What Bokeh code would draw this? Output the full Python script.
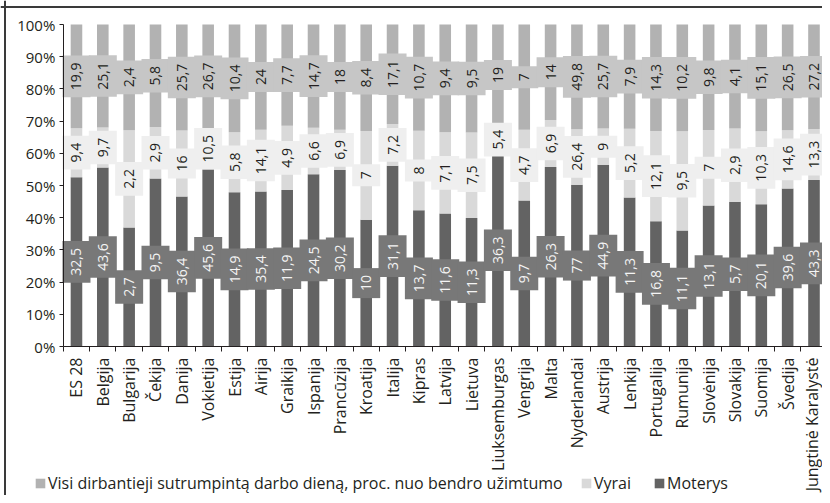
import numpy as np
from math import pi
from bokeh.plotting import figure
from bokeh.models import (Range1d, FixedTicker, PrintfTickFormatter, Legend,
                          LegendItem, ColumnDataSource, Span)
from bokeh.embed import file_html
from bokeh.resources import INLINE
from bokeh.core.properties import value

countries = ["ES 28", "Belgija", "Bulgarija", "Čekija", "Danija", "Vokietija",
             "Estija", "Airija", "Graikija", "Ispanija", "Prancūzija", "Kroatija",
             "Italija", "Kipras", "Latvija", "Lietuva", "Liuksemburgas", "Vengrija",
             "Malta", "Nyderlandai", "Austrija", "Lenkija", "Portugalija", "Rumunija",
             "Slovėnija", "Slovakija", "Suomija", "Švedija", "Jungtinė Karalystė"]
moterys = [32.5, 43.6, 2.7, 9.5, 36.4, 45.6, 14.9, 35.4, 11.9, 24.5, 30.2, 10,
           31.1, 13.7, 11.6, 11.3, 36.3, 9.7, 26.3, 77, 44.9, 11.3, 16.8, 11.1,
           13.1, 5.7, 20.1, 39.6, 43.3]
vyrai = [9.4, 9.7, 2.2, 2.9, 16, 10.5, 5.8, 14.1, 4.9, 6.6, 6.9, 7, 7.2, 8, 7.1,
         7.5, 5.4, 4.7, 6.9, 26.4, 9, 5.2, 12.1, 9.5, 7, 2.9, 10.3, 14.6, 13.3]
visi = [19.9, 25.1, 2.4, 5.8, 25.7, 26.7, 10.4, 24, 7.7, 14.7, 18, 8.4, 17.1,
        10.7, 9.4, 9.5, 19, 7, 14, 49.8, 25.7, 7.9, 14.3, 10.2, 9.8, 4.1, 15.1,
        26.5, 27.2]
y_ticks = [0, 10, 20, 30, 40, 50, 60, 70, 80, 90, 100]
legend_labels = ["Visi dirbantieji sutrumpintą darbo dieną, proc. nuo bendro užimtumo",
                 "Vyrai", "Moterys"]

DARK, DARK_BOX = "#636363", "#787878"
LIGHT, LIGHT_BOX = "#d9d9d9", "#efefef"
GRAY, GRAY_BOX = "#b2b2b2", "#c6c6c6"
INK = "#231f20"
FRAME = "#3a3a3a"
FONT = "Open Sans"

W = np.array(moterys, float)
M = np.array(vyrai, float)
A = np.array(visi, float)
tot = W + M + A
pw, pm, pa = W / tot * 100, M / tot * 100, A / tot * 100
n = len(countries)
x = np.arange(n) + 0.5


def fmt(v):
    return f"{v:g}".replace(".", ",")


src = ColumnDataSource(dict(
    x=x, w1=pw, m1=pw + pm, a1=pw + pm + pa,
    wc=pw / 2, mc=pw + pm / 2, ac=pw + pm + pa / 2,
    wl=[fmt(v) for v in moterys], ml=[fmt(v) for v in vyrai], al=[fmt(v) for v in visi],
))

# layout geometry (canvas pixels)
CW, CH = 822, 495
X0_PX = 62.8          # x of category axis start
STEP_PX = 26.34       # pixels per category
Y0_PX = 346.0         # y of 0 %
Y100_PX = 24.0        # y of 100 %
ppu = (Y0_PX - Y100_PX) / 100.0
xr = Range1d(-X0_PX / STEP_PX, (CW - X0_PX) / STEP_PX)
yr = Range1d(-(CH - Y0_PX) / ppu, 100 + Y100_PX / ppu)

p = figure(width=CW, height=CH, x_range=xr, y_range=yr,
           output_backend="svg", toolbar_location=None, min_border=0)
p.outline_line_color = None
p.xgrid.visible = False
p.ygrid.visible = False
p.background_fill_color = "white"

# outer chart frame (top and left edges)
p.add_layout(Span(location=(4.5 - X0_PX) / STEP_PX, dimension="height",
                  line_color=FRAME, line_width=2))
p.add_layout(Span(location=100 + (Y100_PX - 6.5) / ppu, dimension="width",
                  line_color=FRAME, line_width=2))

bw = 0.44
r_w = p.vbar(x="x", bottom=0, top="w1", width=bw, fill_color=DARK, line_color=None, source=src)
r_m = p.vbar(x="x", bottom="w1", top="m1", width=bw, fill_color=LIGHT, line_color=None, source=src)
r_a = p.vbar(x="x", bottom="m1", top="a1", width=bw, fill_color=GRAY, line_color=None, source=src)

for ycol, tcol, box, tc in [("ac", "al", GRAY_BOX, INK), ("mc", "ml", LIGHT_BOX, INK),
                            ("wc", "wl", DARK_BOX, "#f4f4f4")]:
    p.text(x="x", y=ycol, text=tcol, angle=pi / 2, text_align="center",
           text_baseline="middle", text_font=value(FONT), text_font_size="14px",
           text_color=tc, background_fill_color=box, padding=(7, 9), source=src)

# y axis
ya = p.yaxis[0]
ya.fixed_location = 0
ya.bounds = (0, 100)
ya.ticker = FixedTicker(ticks=y_ticks)
ya.formatter = PrintfTickFormatter(format="%d%%")
ya.major_tick_out = 4
ya.major_tick_in = 0
ya.minor_tick_out = 0
ya.minor_tick_in = 0
ya.major_label_standoff = 4
ya.axis_line_color = INK
ya.major_tick_line_color = INK
ya.major_label_text_font = FONT
ya.major_label_text_font_size = "15px"
ya.major_label_text_color = INK

# x axis
xa = p.xaxis[0]
xa.fixed_location = 0
xa.bounds = (0, n)
xa.ticker = FixedTicker(ticks=list(x), minor_ticks=list(range(n + 1)))
xa.major_label_overrides = {float(xi): c for xi, c in zip(x, countries)}
xa.major_label_orientation = pi / 2
xa.major_tick_out = 0
xa.major_tick_in = 0
xa.minor_tick_out = 5
xa.minor_tick_in = 0
xa.major_label_standoff = 6
xa.axis_line_color = INK
xa.minor_tick_line_color = INK
xa.major_label_text_font = FONT
xa.major_label_text_font_size = "16px"
xa.major_label_text_color = INK

for lab, r, vx in zip(legend_labels, [r_a, r_m, r_w], [34, 580, 653]):
    leg = Legend(items=[LegendItem(label=lab, renderers=[r])], location=(vx, 1),
                 orientation="horizontal", border_line_color=None,
                 background_fill_alpha=0, padding=0, margin=0, spacing=0,
                 glyph_width=12, glyph_height=12, label_height=12, label_standoff=2,
                 label_text_font=FONT, label_text_font_size="16px",
                 label_text_baseline="alphabetic", label_text_color=INK)
    p.add_layout(leg)

open("out.html", "w").write(file_html(p, INLINE))
